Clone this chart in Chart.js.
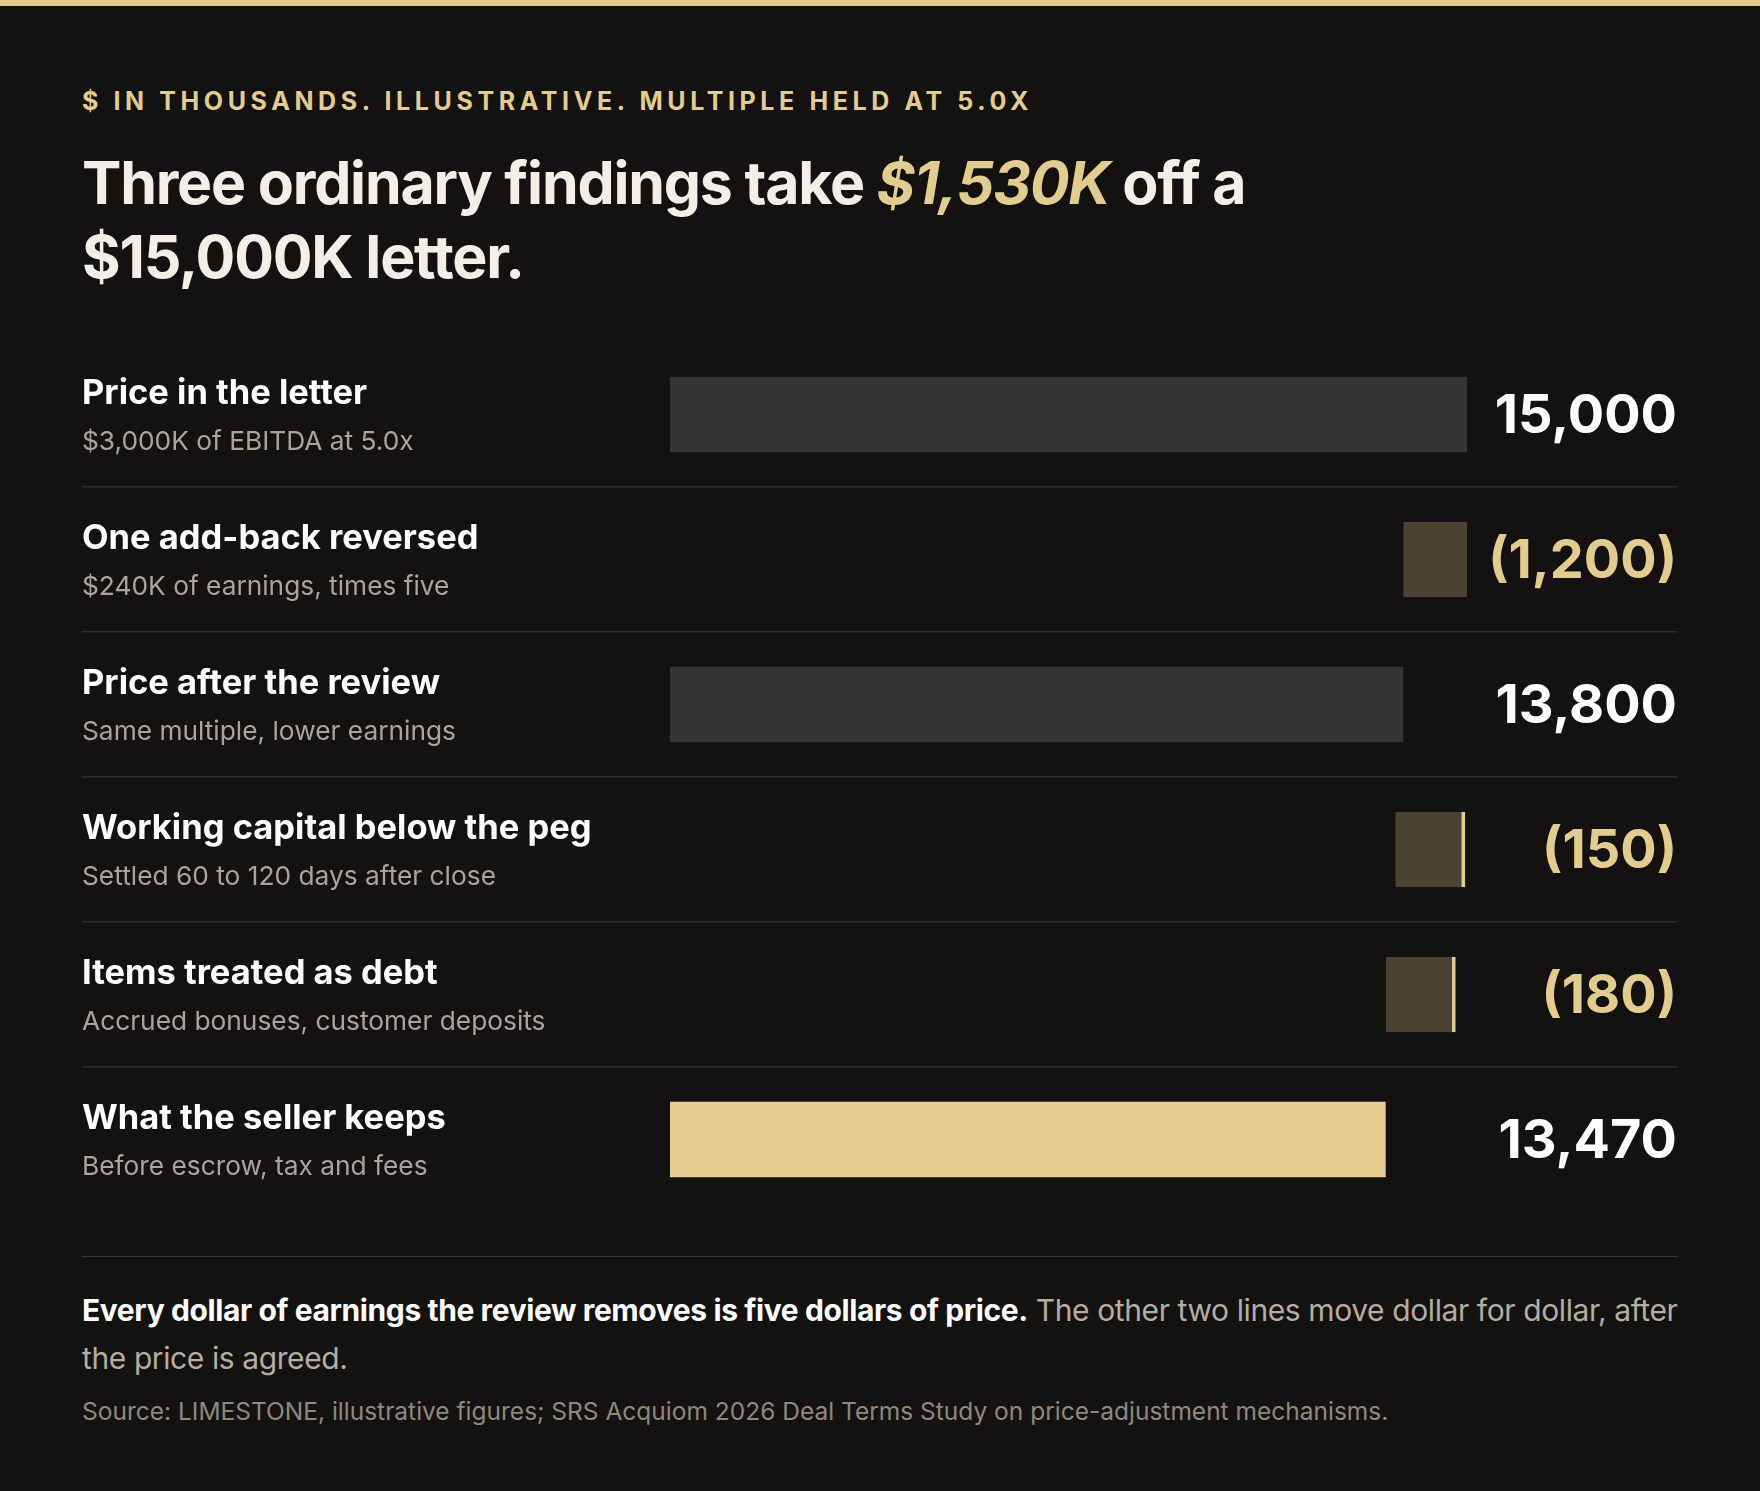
<!DOCTYPE html>
<html><head><meta charset="utf-8">
<script src="https://cdn.jsdelivr.net/npm/chart.js@4/dist/chart.umd.min.js"></script>
<style>
html,body{margin:0;padding:0;background:#141210;width:1760px;height:1491px;overflow:hidden;font-family:Inter,"Noto Sans",sans-serif;}
#top{position:absolute;left:0;top:0;width:1760px;height:6px;background:#e3cc8f;}
#kick{position:absolute;left:82px;top:86px;color:#e3cc8f;font-size:25px;font-weight:700;letter-spacing:4.6px;}
#title{position:absolute;left:82px;top:146px;color:#f3efe6;font-size:59px;font-weight:700;line-height:74px;letter-spacing:-1.2px;width:1400px;}
#title i{color:#e3cc8f;}
#wrap{position:absolute;left:82px;top:342px;width:1595px;height:870px;}
#rule{position:absolute;left:82px;top:1256px;width:1595px;height:1px;background:#38342e;}
#note{position:absolute;left:82px;top:1286px;width:1600px;color:#b5ada0;font-size:30px;line-height:48px;letter-spacing:-0.4px;}
#note b{color:#fff;font-weight:700;}
#src{position:absolute;left:82px;top:1396px;color:#8f887d;font-size:24.5px;}
</style></head><body>
<div id="top"></div>
<div id="kick">$ IN THOUSANDS. ILLUSTRATIVE. MULTIPLE HELD AT 5.0X</div>
<div id="title">Three ordinary findings take <i>$1,530K</i> off a<br>$15,000K letter.</div>
<div id="wrap"><canvas id="c"></canvas></div>
<div id="rule"></div>
<div id="note"><b>Every dollar of earnings the review removes is five dollars of price.</b> The other two lines move dollar for dollar, after the price is agreed.</div>
<div id="src">Source: LIMESTONE, illustrative figures; SRS Acquiom 2026 Deal Terms Study on price-adjustment mechanisms.</div>
<script>
const categories=["Price in the letter","One add-back reversed","Price after the review","Working capital below the peg","Items treated as debt","What the seller keeps"];
const subtitles=["$3,000K of EBITDA at 5.0x","$240K of earnings, times five","Same multiple, lower earnings","Settled 60 to 120 days after close","Accrued bonuses, customer deposits","Before escrow, tax and fees"];
const values=[15000,-1200,13800,-150,-180,13470];
const isTotal=[true,false,true,false,false,true];
const axisMax=15000;

let run=0;const ranges=[];
values.forEach((v,i)=>{if(isTotal[i]){ranges.push([0,v]);run=v;}else{ranges.push([run+v,run]);run+=v;}});
const colors=values.map((v,i)=>isTotal[i]?(i===values.length-1?'#e5cc8f':'#363534'):'#4a4232');
const fmt=v=>v<0?'('+Math.abs(v).toLocaleString('en-US')+')':v.toLocaleString('en-US');

const deco={id:'deco',afterDraw(ch){
  const c=ch.ctx,meta=ch.getDatasetMeta(0),W=ch.width;
  c.save();
  meta.data.forEach((b,i)=>{
    const y=b.y;
    c.fillStyle='#fff';c.font='700 34.5px Inter';c.textBaseline='middle';c.textAlign='left';
    c.fillText(categories[i],0,y-21);
    c.fillStyle='#aaa49a';c.font='400 26.3px Inter';
    c.fillText(subtitles[i],0,y+28);
    c.textAlign='right';c.font='700 54px Inter';
    c.fillStyle=isTotal[i]?'#ffffff':'#e3cc8f';
    c.fillText(fmt(values[i]),W,y+2);
    if(i<meta.data.length-1){c.fillStyle='#2f2c28';c.fillRect(0,(i+1)*145-1,W,1.5);}
  });
  c.restore();}};

new Chart(document.getElementById('c'),{type:'bar',
 data:{labels:categories,datasets:[{data:ranges,backgroundColor:colors,
   borderColor:'#e3cc8f',borderWidth:values.map((v,i)=>isTotal[i]?0:{left:0,top:0,bottom:0,right:4}),
   borderSkipped:false,minBarLength:70,barPercentage:0.52,categoryPercentage:1}]},
 options:{indexAxis:'y',responsive:true,maintainAspectRatio:false,animation:false,
  layout:{padding:{left:588,right:210,top:0,bottom:0}},
  plugins:{legend:{display:false},tooltip:{enabled:false}},
  scales:{x:{display:false,min:0,max:axisMax},y:{display:false}}},
 plugins:[deco]});
</script>
</body></html>
